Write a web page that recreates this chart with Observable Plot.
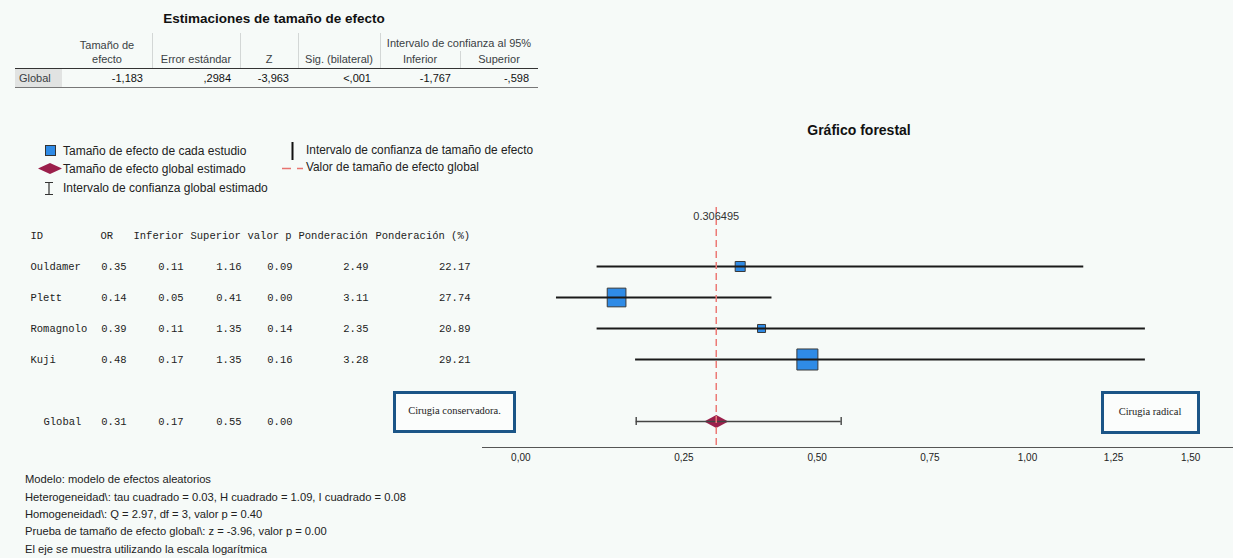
<!DOCTYPE html>
<html><head><meta charset="utf-8">
<script src="https://cdn.jsdelivr.net/npm/d3@7"></script>
<script src="https://cdn.jsdelivr.net/npm/@observablehq/plot@0.6"></script>
<style>
html,body{margin:0;padding:0;background:#f6faf8;}
#root{position:relative;width:1233px;height:558px;overflow:hidden;font-family:"Liberation Sans",Arial,sans-serif;color:#222;}
.abs{position:absolute;white-space:nowrap;line-height:1;}
</style></head><body><div id="root"></div>
<script>
// ---------------- data ----------------
const summaryTitle = "Estimaciones de tamaño de efecto";
const summaryColumns = [["Tamaño de", "efecto"], ["Error estándar"], ["Z"], ["Sig. (bilateral)"], ["Inferior"], ["Superior"]];
const summaryGroupLabel = "Intervalo de confianza al 95%";
const summaryRowLabel = "Global";
const summaryValues = ["-1,183", ",2984", "-3,963", "<,001", "-1,767", "-,598"];

const studyIds = ["Ouldamer", "Plett", "Romagnolo", "Kuji"];
const studyOR = [0.35, 0.14, 0.39, 0.48];
const studyLower = [0.11, 0.05, 0.11, 0.17];
const studyUpper = [1.16, 0.41, 1.35, 1.35];
const studyP = [0.09, 0.00, 0.14, 0.16];
const studyWeight = [2.49, 3.11, 2.35, 3.28];
const studyWeightPct = [22.17, 27.74, 20.89, 29.21];

const globalLabel = "Global";
const globalOR = 0.306495;
const globalLower = 0.171;
const globalUpper = 0.55;
const globalP = 0.00;

const tableHeaders = ["ID", "OR", "Inferior", "Superior", "valor p", "Ponderación", "Ponderación (%)"];
const xTicks = [0, 0.25, 0.5, 0.75, 1, 1.25, 1.5];

const legendLeft = ["Tamaño de efecto de cada estudio", "Tamaño de efecto global estimado", "Intervalo de confianza global estimado"];
const legendRight = ["Intervalo de confianza de tamaño de efecto", "Valor de tamaño de efecto global"];
const chartTitle = "Gráfico forestal";
const noteLeft = "Cirugia conservadora.";
const noteRight = "Cirugia radical";
const footnotes = [
  "Modelo: modelo de efectos aleatorios",
  "Heterogeneidad\\: tau cuadrado = 0.03, H cuadrado = 1.09, I cuadrado = 0.08",
  "Homogeneidad\\: Q = 2.97, df = 3, valor p = 0.40",
  "Prueba de tamaño de efecto global\\: z = -3.96, valor p = 0.00",
  "El eje se muestra utilizando la escala logarítmica"
];

// ---------------- helpers ----------------
const root = document.getElementById("root");
function put(text, opts) {
  const d = document.createElement("div");
  d.className = "abs";
  d.textContent = text;
  const s = d.style;
  s.fontSize = (opts.size || 12) + "px";
  if (opts.bold) s.fontWeight = "bold";
  if (opts.color) s.color = opts.color;
  if (opts.family) s.fontFamily = opts.family;
  s.top = (opts.y - (opts.size || 12) * 0.5) + "px";
  if (opts.anchor === "middle") { s.left = opts.x + "px"; s.transform = "translateX(-50%)"; }
  else if (opts.anchor === "end") { s.right = (1233 - opts.x) + "px"; }
  else s.left = opts.x + "px";
  root.appendChild(d);
  return d;
}
function box(x, y, w, h, css) {
  const d = document.createElement("div");
  d.style.position = "absolute";
  d.style.left = x + "px"; d.style.top = y + "px";
  d.style.width = w + "px"; d.style.height = h + "px";
  Object.assign(d.style, css || {});
  root.appendChild(d);
  return d;
}

// ---------------- summary table ----------------
put(summaryTitle, {x: 274, y: 19, size: 13.5, bold: true, anchor: "middle", color: "#111"});
const colB = [15, 62, 152, 240, 298, 380, 460, 538];
box(15, 69, 47, 18, {background: "#e1e3e2"});
[152, 240, 298, 380].forEach(x => box(x, 33, 0, 35, {borderLeft: "1px solid #d3d7d6"}));
box(460, 51, 0, 17, {borderLeft: "1px solid #d3d7d6"});
box(15, 68, 523, 0, {borderTop: "1px solid #333"});
box(15, 87, 523, 0, {borderTop: "1px solid #777"});
put(summaryGroupLabel, {x: (colB[5] + colB[7]) / 2, y: 43, size: 11, anchor: "middle", color: "#3a3f44"});
summaryColumns.forEach((lines, i) => {
  const cx = (colB[i + 1] + colB[i + 2]) / 2;
  lines.forEach((t, k) => put(t, {x: cx, y: 59 - (lines.length - 1 - k) * 14, size: 11, anchor: "middle", color: "#3a3f44"}));
});
put(summaryRowLabel, {x: 19, y: 78, size: 11, color: "#3a3f44"});
summaryValues.forEach((v, i) => put(v, {x: colB[i + 2] - 9, y: 78, size: 11, anchor: "end", color: "#111"}));

// ---------------- legend ----------------
function svgIcon(x, y, w, h, inner) {
  const d = box(x, y, w, h);
  d.innerHTML = `<svg width="${w}" height="${h}" style="display:block;overflow:visible">${inner}</svg>`;
}
svgIcon(45, 145, 11, 11, `<rect x="0.5" y="0.5" width="10" height="10" fill="#2f8be6" stroke="#333" stroke-width="1"/>`);
svgIcon(38, 163, 24, 11, `<path d="M0,5.5L12,0L24,5.5L12,11Z" fill="#9b1f4b"/>`);
svgIcon(44, 182, 10, 13, `<path d="M1,0.5H9M5,0.5V12.5M1,12.5H9" stroke="#333" stroke-width="1.2" fill="none"/>`);
svgIcon(291, 142, 3, 18, `<rect x="0.5" y="0" width="2" height="18" fill="#111"/>`);
svgIcon(282, 167, 22, 3, `<path d="M0,1.5H9M15,1.5H21" stroke="#e8736f" stroke-width="1.5"/>`);
put(legendLeft[0], {x: 63, y: 151, size: 12});
put(legendLeft[1], {x: 63, y: 169, size: 12});
put(legendLeft[2], {x: 63, y: 188, size: 12});
put(legendRight[0], {x: 306, y: 151, size: 11.85});
put(legendRight[1], {x: 306, y: 168, size: 11.85});

// ---------------- chart title ----------------
put(chartTitle, {x: 859, y: 130, size: 14, bold: true, anchor: "middle", color: "#111"});

// ---------------- records ----------------
const studies = studyIds.map((id, i) => ({
  id, or: studyOR[i], lo: studyLower[i], hi: studyUpper[i], p: studyP[i],
  w: studyWeight[i], wp: studyWeightPct[i], row: i + 1
}));
const globalRow = studies.length + 2;
const globalRec = {id: globalLabel, or: globalOR, lo: globalLower, hi: globalUpper, p: globalP, row: globalRow};
const yDomain = [-1.129, 6.839];
const yRange = [0, 247];

// ---------------- text table (Plot) ----------------
const headerStart = [30, 100, 133, 190, 247, 298, 375];
const valueEnd = [126, 183, 241, 292, 368, 470];
const headerCells = tableHeaders.map((t, i) => ({text: t, x: headerStart[i], row: 0}));
const idCells = studies.map(s => ({text: s.id, x: headerStart[0], row: s.row})).concat([{text: globalRec.id, x: 43, row: globalRow}]);
const numCells = [];
studies.forEach(s => [s.or, s.lo, s.hi, s.p, s.w, s.wp].forEach((v, c) => numCells.push({text: v.toFixed(2), x: valueEnd[c], row: s.row})));
[globalRec.or, globalRec.lo, globalRec.hi, globalRec.p].forEach((v, c) => numCells.push({text: v.toFixed(2), x: valueEnd[c], row: globalRow}));

const tableFont = {fontFamily: "Liberation Mono, DejaVu Sans Mono, monospace", fontSize: 10.5, fill: "#222"};
const tablePlot = Plot.plot({
  width: 480, height: 270, margin: 0,
  x: {type: "identity", axis: null},
  y: {domain: yDomain, range: yRange, axis: null},
  style: {background: "transparent", overflow: "visible"},
  marks: [
    Plot.text(headerCells, {x: "x", y: "row", text: "text", textAnchor: "start", ...tableFont}),
    Plot.text(idCells, {x: "x", y: "row", text: "text", textAnchor: "start", ...tableFont}),
    Plot.text(numCells, {x: "x", y: "row", text: "text", textAnchor: "end", ...tableFont})
  ]
});
const tdiv = box(0, 200, 480, 270); tdiv.appendChild(tablePlot);

// ---------------- annotation boxes ----------------
box(393, 391, 117, 36, {border: "3px solid #1b5587", background: "#fbfdfc"});
box(1101, 391, 93, 37, {border: "3px solid #1b5587", background: "#fbfdfc"});

// ---------------- forest plot ----------------
// wide diamond glyph for the pooled estimate (24 x 13 px)
const diamond = {
  draw(ctx) {
    ctx.moveTo(-12, 0); ctx.lineTo(0, -6.5); ctx.lineTo(12, 0); ctx.lineTo(0, 6.5); ctx.closePath();
  }
};
const forest = Plot.plot({
  width: 751, height: 270,
  marginTop: 0, marginLeft: 0, marginRight: 0, marginBottom: 23,
  x: {type: "symlog", constant: 1, domain: [-0.0538, 1.651], range: [0, 751]},
  y: {domain: yDomain, range: yRange, axis: null},
  r: {type: "linear", domain: [20.89, 29.21], range: [4.52, 11.86]},
  style: {background: "transparent", fontFamily: "Liberation Sans, Arial, sans-serif", fontSize: "10px", color: "#222", overflow: "visible"},
  marks: [
    Plot.frame({anchor: "bottom", stroke: "#555"}),
    Plot.axisX(xTicks, {tickSize: 0, tickPadding: 6, tickFormat: d => d.toFixed(2).replace(".", ","), fill: "#222"}),
    Plot.dot(studies, {x: "or", y: "row", r: "wp", symbol: "square", fill: "#2f8be6", stroke: "#3a3a3a", strokeWidth: 1}),
    Plot.ruleY(studies, {x1: "lo", x2: "hi", y: "row", stroke: "#1a1a1a", strokeWidth: 1.8}),
    Plot.dot([globalRec], {x: "or", y: "row", symbol: diamond, fill: "#9b1f4b"}),
    Plot.ruleY([globalRec], {x1: "lo", x2: "hi", y: "row", stroke: "#444", strokeWidth: 1.4}),
    Plot.ruleX([globalRec.lo, globalRec.hi], {x: d => d, y1: globalRow - 0.13, y2: globalRow + 0.13, stroke: "#444", strokeWidth: 1.4}),
    Plot.ruleX([globalRec], {x: "or", y1: -0.9, y2: yDomain[1], stroke: "#ec7a76", strokeWidth: 1.5, strokeDasharray: "7,4"}),
    Plot.text([globalRec], {x: "or", y: -0.62, text: d => String(d.or), fontSize: 11, fill: "#333"})
  ]
});
const fdiv = box(482, 200, 751, 270); fdiv.appendChild(forest);

put(noteLeft, {x: 454.5, y: 411, size: 10.5, anchor: "middle", family: "Liberation Serif, Times New Roman, serif", color: "#222"});
put(noteRight, {x: 1150, y: 412, size: 10.5, anchor: "middle", family: "Liberation Serif, Times New Roman, serif", color: "#222"});

// ---------------- footnotes ----------------
footnotes.forEach((t, i) => put(t, {x: 25, y: 480 + i * 17.3, size: 11.2, color: "#222"}));
</script></body></html>
